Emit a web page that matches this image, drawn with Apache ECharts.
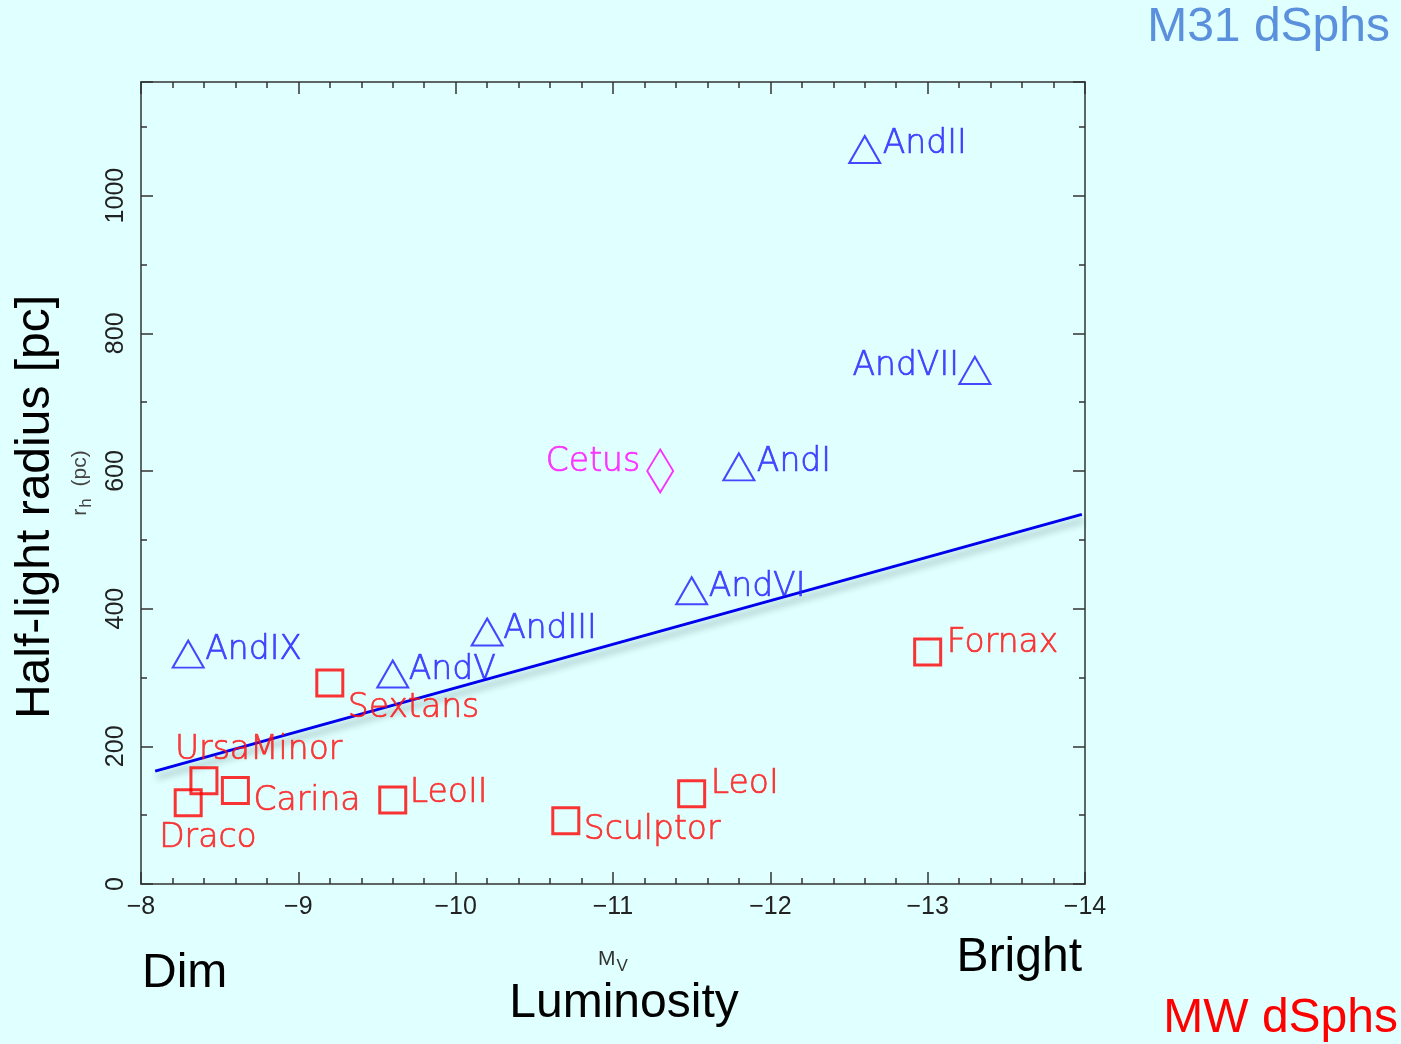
<!DOCTYPE html>
<html>
<head>
<meta charset="utf-8">
<title>Half-light radius vs luminosity of dwarf spheroidals</title>
<script src="https://cdn.jsdelivr.net/npm/echarts@6/dist/echarts.min.js"></script>
<style>
  html, body { margin: 0; padding: 0; background: #e0ffff; }
  #chart { width: 1401px; height: 1044px; }
</style>
</head>
<body>
<div id="chart"></div>
<script>
// Milky Way dwarf spheroidals: absolute magnitude M_V and half-light radius r_h (pc)
const mwNames = ['Draco', 'UrsaMinor', 'Carina', 'Sextans', 'LeoII', 'Sculptor', 'LeoI', 'Fornax'];
const mwMv    = [-8.3, -8.4, -8.6, -9.2, -9.6, -10.7, -11.5, -13.0];
const mwRh    = [118, 150, 136, 292, 122, 92, 131, 337];

// Andromeda (M31) dwarf spheroidals
const m31Names = ['AndIX', 'AndV', 'AndIII', 'AndVI', 'AndI', 'AndVII', 'AndII'];
const m31Mv    = [-8.3, -9.6, -10.2, -11.5, -11.8, -13.3, -12.6];
const m31Rh    = [334, 305, 366, 426, 606, 746, 1067];

// Isolated dwarf
const isoNames = ['Cetus'];
const isoMv    = [-11.3];
const isoRh    = [600];

// Linear relation drawn across the panel
const fitMv = [-8.09, -13.98];
const fitRh = [164, 537];

// Axis ranges and ticks
const xMin = -14, xMax = -8, xStep = 1;
const yMin = 0, yMax = 1165, yStep = 200, yMinorStep = 100;

// Where each name sits relative to its marker: [side, dx, dy]
const labelPlace = {
  Draco: ['left', -29, 36], UrsaMinor: ['left', -29, -30], Carina: ['left', 18, 11],
  Sextans: ['left', 18, 25], LeoII: ['left', 17, -7], Sculptor: ['left', 18, 10],
  LeoI: ['left', 19, -9], Fornax: ['left', 19, -9],
  AndIX: ['left', 17, -4], AndV: ['left', 16, -4], AndIII: ['left', 16, -3],
  AndVI: ['left', 17, -3], AndI: ['left', 18, -4], AndVII: ['right', -16, -4],
  AndII: ['left', 18, -5], Cetus: ['right', -20, -9]
};

const labelFont = { fontFamily: 'DejaVu Sans', fontWeight: 200, fontSize: 33 };

function points(names, mv, rh, color) {
  return names.map((n, i) => {
    const p = labelPlace[n];
    return {
      name: n,
      value: [mv[i], rh[i]],
      label: {
        show: true, formatter: n, position: 'inside',
        align: p[0], verticalAlign: 'middle', offset: [p[1], p[2]],
        color: color, textBorderColor: color, textBorderWidth: 0.7, ...labelFont
      }
    };
  });
}

const frameColor = '#333';
const tickFont = { fontFamily: 'Liberation Sans', fontSize: 25, color: '#222' };
const fmtX = v => (v < 0 ? '\u2212' : '') + Math.abs(v);

function xAxisDef(pos, showLabel) {
  return {
    type: 'value', position: pos, min: xMin, max: xMax, interval: xStep, inverse: true,
    axisLine: { show: true, onZero: false, lineStyle: { color: frameColor, width: 1.5 } },
    axisTick: { show: true, inside: true, length: 12, lineStyle: { color: frameColor, width: 1.5 } },
    minorTick: { show: true, splitNumber: 5, length: 6, lineStyle: { color: frameColor, width: 1.5 } },
    axisLabel: { show: showLabel, formatter: fmtX, margin: 11, ...tickFont },
    splitLine: { show: false }, minorSplitLine: { show: false }
  };
}

function yAxisDef(pos, step, tickLen, showLabel, showLine) {
  return {
    type: 'value', position: pos, min: yMin, max: yMax, interval: step,
    axisLine: { show: showLine, onZero: false, lineStyle: { color: frameColor, width: 1.5 } },
    axisTick: { show: true, inside: true, length: tickLen, lineStyle: { color: frameColor, width: 1.5 } },
    axisLabel: {
      show: showLabel, rotate: 90, margin: 12, ...tickFont,
      formatter: v => (v % yStep === 0 ? String(v) : '')
    },
    splitLine: { show: false }
  };
}

const xBottom = xAxisDef('bottom', true);
xBottom.name = '{m|M}{s|V}';
xBottom.nameLocation = 'middle';
xBottom.nameGap = 60;
xBottom.nameTextStyle = {
  fontFamily: 'Liberation Sans', fontSize: 21, color: '#333',
  rich: {
    m: { fontFamily: 'Liberation Sans', fontSize: 21, color: '#333' },
    s: { fontFamily: 'Liberation Sans', fontSize: 17, color: '#333', padding: [14, 0, 0, 1] }
  }
};

const yLeft = yAxisDef('left', yStep, 12, true, true);
yLeft.name = '{r|r}{s|h}{p|  (pc)}';
yLeft.nameLocation = 'middle';
yLeft.nameGap = 46;
yLeft.nameTextStyle = {
  fontFamily: 'Liberation Sans', fontSize: 21, color: '#444',
  rich: {
    r: { fontFamily: 'Liberation Sans', fontSize: 21, color: '#444' },
    s: { fontFamily: 'Liberation Sans', fontSize: 17, color: '#444', padding: [12, 0, 0, 1] },
    p: { fontFamily: 'Liberation Sans', fontSize: 21, color: '#444' }
  }
};

const bigFont = '48px Liberation Sans';

const chart = echarts.init(document.getElementById('chart'), null, { renderer: 'canvas' });
chart.setOption({
  animation: false,
  backgroundColor: '#e0ffff',
  grid: { left: 141, top: 82, right: 316, bottom: 160, containLabel: false },
  xAxis: [xBottom, xAxisDef('top', false)],
  yAxis: [
    yLeft,
    yAxisDef('left', yMinorStep, 6, false, false),
    yAxisDef('right', yStep, 12, false, true),
    yAxisDef('right', yMinorStep, 6, false, false)
  ],
  series: [
    {
      type: 'line', xAxisIndex: 0, yAxisIndex: 0, symbol: 'none', silent: true,
      data: fitMv.map((v, i) => [v, fitRh[i]]),
      lineStyle: {
        color: '#0000ee', width: 3,
        shadowColor: 'rgba(30,70,70,0.45)', shadowBlur: 7, shadowOffsetX: 2, shadowOffsetY: 6
      },
      z: 2
    },
    {
      type: 'scatter', xAxisIndex: 0, yAxisIndex: 0, symbol: 'rect', symbolSize: 26,
      itemStyle: { color: 'rgba(0,0,0,0)', borderColor: '#ff0000', borderWidth: 3 },
      data: points(mwNames, mwMv, mwRh, '#ff1010'), z: 3
    },
    {
      type: 'scatter', xAxisIndex: 0, yAxisIndex: 0, symbol: 'triangle', symbolSize: [31, 27],
      itemStyle: { color: 'rgba(0,0,0,0)', borderColor: '#1a1aff', borderWidth: 2 },
      data: points(m31Names, m31Mv, m31Rh, '#2020ff'), z: 3
    },
    {
      type: 'scatter', xAxisIndex: 0, yAxisIndex: 0, symbol: 'diamond', symbolSize: [26, 43],
      itemStyle: { color: 'rgba(0,0,0,0)', borderColor: '#ff00ff', borderWidth: 2 },
      data: points(isoNames, isoMv, isoRh, '#ff10ff'), z: 3
    }
  ],
  graphic: [
    { type: 'text', x: 1390, y: 28, style: { text: 'M31 dSphs', font: bigFont, fill: '#5a90dc', align: 'right', verticalAlign: 'middle' } },
    { type: 'text', x: 1398, y: 1019, style: { text: 'MW dSphs', font: bigFont, fill: '#ff0000', align: 'right', verticalAlign: 'middle' } },
    { type: 'text', x: 142, y: 974, style: { text: 'Dim', font: bigFont, fill: '#000', align: 'left', verticalAlign: 'middle' } },
    { type: 'text', x: 1082, y: 958, style: { text: 'Bright', font: bigFont, fill: '#000', align: 'right', verticalAlign: 'middle' } },
    { type: 'text', x: 624, y: 1004, style: { text: 'Luminosity', font: bigFont, fill: '#000', align: 'center', verticalAlign: 'middle' } },
    { type: 'text', x: 36, y: 507, rotation: Math.PI / 2, style: { text: 'Half-light radius [pc]', font: bigFont, fill: '#000', align: 'center', verticalAlign: 'middle' } }
  ]
});
</script>
</body>
</html>
